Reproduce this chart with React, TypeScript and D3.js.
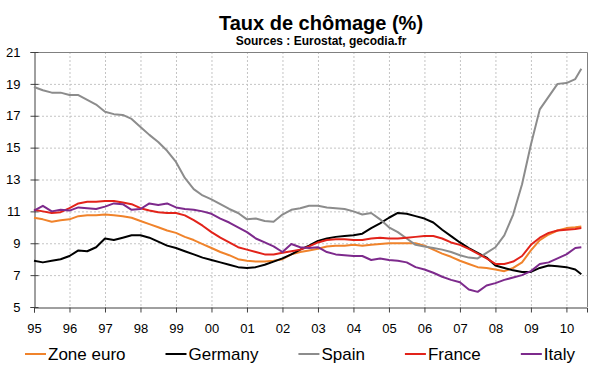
import { useRef, useEffect } from 'react';
import * as d3 from 'd3';

// quarterly points
const dates = [
  1995.0, 1995.25, 1995.5, 1995.75, 1996.0, 1996.25, 1996.5, 1996.75,
  1997.0, 1997.25, 1997.5, 1997.75, 1998.0, 1998.25, 1998.5, 1998.75,
  1999.0, 1999.25, 1999.5, 1999.75, 2000.0, 2000.25, 2000.5, 2000.75,
  2001.0, 2001.25, 2001.5, 2001.75, 2002.0, 2002.25, 2002.5, 2002.75,
  2003.0, 2003.25, 2003.5, 2003.75, 2004.0, 2004.25, 2004.5, 2004.75,
  2005.0, 2005.25, 2005.5, 2005.75, 2006.0, 2006.25, 2006.5, 2006.75,
  2007.0, 2007.25, 2007.5, 2007.75, 2008.0, 2008.25, 2008.5, 2008.75,
  2009.0, 2009.25, 2009.5, 2009.75, 2010.0, 2010.25, 2010.42,
];

const zoneEuro = [
  10.6, 10.5, 10.35, 10.45, 10.5, 10.7, 10.75, 10.75,
  10.8, 10.75, 10.7, 10.6, 10.4, 10.2, 10.0, 9.8,
  9.65, 9.4, 9.2, 8.95, 8.7, 8.45, 8.25, 8.0,
  7.9, 7.85, 7.85, 7.9, 8.0, 8.3, 8.45, 8.55,
  8.65, 8.8, 8.85, 8.85, 8.9, 8.85, 8.9, 8.95,
  9.0, 9.0, 9.0, 9.0, 8.85, 8.6, 8.35, 8.15,
  7.9, 7.7, 7.5, 7.45, 7.35, 7.25, 7.45, 7.8,
  8.55, 9.2, 9.55, 9.8, 9.95, 10.0, 10.05,
];

const germany = [
  7.9, 7.8, 7.9, 8.0, 8.2, 8.55, 8.5, 8.75,
  9.3, 9.2, 9.35, 9.5, 9.5, 9.35, 9.1, 8.85,
  8.7, 8.5, 8.3, 8.1, 7.95, 7.8, 7.65, 7.5,
  7.45, 7.5, 7.65, 7.85, 8.05, 8.3, 8.6, 8.85,
  9.15, 9.3, 9.4, 9.45, 9.5, 9.6, 9.95, 10.25,
  10.6, 10.9, 10.85, 10.7, 10.55, 10.3, 9.85, 9.45,
  9.05, 8.7, 8.4, 8.1, 7.6, 7.45, 7.3, 7.2,
  7.2, 7.45, 7.6, 7.55, 7.5, 7.35, 7.05,
];

const spain = [
  18.8, 18.6, 18.45, 18.45, 18.3, 18.3, 18.0, 17.7,
  17.25, 17.1, 17.05, 16.8, 16.3, 15.8, 15.35, 14.8,
  14.1, 13.1, 12.4, 12.0, 11.75, 11.45, 11.15, 10.9,
  10.5, 10.55, 10.4, 10.35, 10.8, 11.1, 11.2, 11.35,
  11.35, 11.25, 11.2, 11.15, 11.0, 10.8, 10.9, 10.5,
  10.0, 9.7, 9.3, 8.9, 8.8, 8.7, 8.6, 8.45,
  8.25, 8.1, 8.05, 8.4, 8.75, 9.5, 10.8, 12.7,
  15.2, 17.4, 18.2, 19.0, 19.05, 19.3, 19.95,
];

const france = [
  11.1, 11.0, 10.9, 10.95, 11.2, 11.5, 11.6, 11.6,
  11.65, 11.65, 11.55, 11.45, 11.2, 11.05, 10.95, 10.9,
  10.9, 10.75, 10.45, 10.1, 9.7, 9.35, 9.05, 8.75,
  8.6, 8.45, 8.3, 8.3, 8.4, 8.5, 8.6, 8.8,
  9.05, 9.2, 9.25, 9.25, 9.2, 9.2, 9.3, 9.35,
  9.3, 9.3, 9.35, 9.4, 9.45, 9.45, 9.3, 9.05,
  8.9, 8.65, 8.35, 8.05, 7.7, 7.7, 7.85, 8.2,
  8.9, 9.35, 9.65, 9.8, 9.85, 9.9, 9.95,
];

const italy = [
  11.05, 11.35, 11.0, 11.1, 11.05, 11.25, 11.2, 11.15,
  11.3, 11.5, 11.45, 11.1, 11.15, 11.5, 11.4, 11.5,
  11.25, 11.15, 11.1, 11.0, 10.85, 10.55, 10.3, 10.0,
  9.7, 9.3, 9.05, 8.8, 8.45, 8.95, 8.75, 8.7,
  8.75, 8.45, 8.3, 8.25, 8.2, 8.2, 7.95, 8.05,
  7.95, 7.9, 7.8, 7.5, 7.35, 7.15, 6.9, 6.7,
  6.55, 6.1, 5.95, 6.35, 6.5, 6.7, 6.85, 7.0,
  7.25, 7.7, 7.8, 8.05, 8.3, 8.7, 8.75,
];

const seriesNames = ['Zone euro', 'Germany', 'Spain', 'France', 'Italy'];
const seriesValues = [zoneEuro, germany, spain, france, italy];
const seriesColors = ['#f0832b', '#000000', '#8c8c8c', '#e2231a', '#7d2a8c'];

const yTicks = [5, 7, 9, 11, 13, 15, 17, 19, 21];
const xTicks = d3.range(1995, 2011);
const xTickLabels = ['95', '96', '97', '98', '99', '00', '01', '02', '03', '04', '05', '06', '07', '08', '09', '10'];

const title = 'Taux de chômage (%)';
const subtitle = 'Sources : Eurostat, gecodia.fr';

export default function App() {
  const svgRef = useRef<SVGSVGElement>(null);

  useEffect(() => {
    const W = 600;
    const H = 372;
    const margin = { top: 52, right: 13, bottom: 65, left: 34 };
    const font = 'Arial, "Liberation Sans", sans-serif';

    const svg = d3.select(svgRef.current)
      .html('')
      .attr('width', W)
      .attr('height', H)
      .style('font-family', font);

    svg.append('rect').attr('width', W).attr('height', H).attr('fill', '#fff');

    const x = d3.scaleLinear()
      .domain([1995, 2010.58])
      .range([margin.left, W - margin.right]);
    const y = d3.scaleLinear()
      .domain([5, 21])
      .range([H - margin.bottom, margin.top]);

    // titre
    svg.append('text')
      .attr('x', 321).attr('y', 30)
      .attr('text-anchor', 'middle')
      .attr('font-size', 20).attr('font-weight', 'bold')
      .text(title);
    svg.append('text')
      .attr('x', 321).attr('y', 45)
      .attr('text-anchor', 'middle')
      .attr('font-size', 12).attr('font-weight', 'bold')
      .text(subtitle);

    // grille pointillée
    const grid = svg.append('g')
      .attr('stroke', '#c4c4c4')
      .attr('stroke-dasharray', '2,2')
      .attr('stroke-width', 1);
    grid.selectAll('.gx')
      .data(xTicks.slice(1))
      .enter().append('line')
      .attr('x1', d => x(d) + 0.5).attr('x2', d => x(d) + 0.5)
      .attr('y1', y(21)).attr('y2', y(5));
    grid.selectAll('.gy')
      .data(yTicks.slice(1, -1))
      .enter().append('line')
      .attr('x1', x.range()[0]).attr('x2', x.range()[1])
      .attr('y1', d => y(d) + 0.5).attr('y2', d => y(d) + 0.5);

    // cadre haut / droite
    svg.append('path')
      .attr('d', `M${x.range()[0]},${y(21) + 0.5}H${x.range()[1] + 0.5}V${y(5)}`)
      .attr('fill', 'none')
      .attr('stroke', '#808080');

    // axe Y
    const yAxis = svg.append('g')
      .attr('transform', `translate(${x.range()[0] + 0.5},0)`)
      .call(d3.axisLeft(y).tickValues(yTicks).tickSize(4).tickPadding(10).tickFormat(d3.format('d')));
    yAxis.select('.domain').attr('stroke', '#404040');
    yAxis.selectAll('.tick line').attr('x2', -4).attr('x1', 4).attr('stroke', '#404040');
    yAxis.selectAll('.tick text')
      .attr('font-size', 13).attr('font-family', font).attr('fill', '#000');

    // axe X
    const xAxis = svg.append('g')
      .attr('transform', `translate(0,${y(5) + 0.5})`)
      .call(d3.axisBottom(x).tickValues(xTicks).tickSize(5).tickPadding(11)
        .tickFormat((d, i) => xTickLabels[i]));
    xAxis.select('.domain').attr('stroke', '#404040');
    xAxis.selectAll('.tick line').attr('stroke', '#404040');
    xAxis.selectAll('.tick text')
      .attr('font-size', 13).attr('font-family', font).attr('fill', '#000');

    // courbes
    const line = d3.line<number>()
      .x((d, i) => x(dates[i]))
      .y(d => y(d));

    seriesValues.forEach((vals, i) => {
      svg.append('path')
        .datum(vals)
        .attr('fill', 'none')
        .attr('stroke', seriesColors[i])
        .attr('stroke-width', 2)
        .attr('stroke-linejoin', 'round')
        .attr('d', line);
    });

    // légende
    const legend = svg.append('g').attr('transform', 'translate(25,354)');
    let cx = 0;
    seriesNames.forEach((name, i) => {
      const g = legend.append('g').attr('transform', `translate(${cx},0)`);
      g.append('line')
        .attr('x1', 0).attr('x2', 21)
        .attr('y1', 0).attr('y2', 0)
        .attr('stroke', seriesColors[i])
        .attr('stroke-width', 2);
      const t = g.append('text')
        .attr('x', 23).attr('y', 6)
        .attr('font-size', 17)
        .text(name);
      const w = (t.node() as SVGTextElement).getComputedTextLength();
      cx += 23 + w + 40;
    });
  }, []);

  return (
    <svg ref={svgRef} style={{ position: 'absolute', left: 0, top: 0 }} />
  );
}
